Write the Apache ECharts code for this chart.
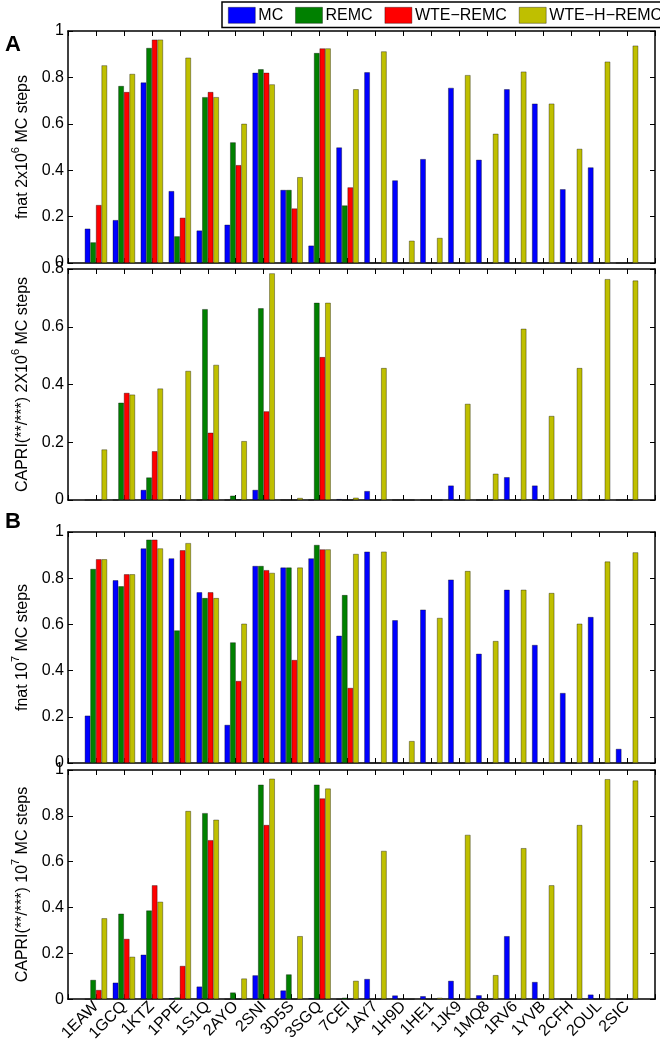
<!DOCTYPE html>
<html><head><meta charset="utf-8">
<script src="https://cdn.jsdelivr.net/npm/echarts@6/dist/echarts.min.js"></script>
<style>html,body{margin:0;padding:0;background:#fff}#c{width:660px;height:1044px}</style>
</head><body><div id="c"></div>
<script>
const categories = ['1EAW','1GCQ','1KTZ','1PPE','1S1Q','2AYO','2SNI','3D5S','3SGQ','7CEI','1AY7','1H9D','1HE1','1JK9','1MQ8','1RV6','1YVB','2CFH','2OUL','2SIC'];
const seriesNames = ['MC','REMC','WTE\u2212REMC','WTE\u2212H\u2212REMC'];
const seriesColors = ['#0000ff','#008000','#ff0000','#bfbf00'];

// Panel A, top: fnat 2x10^6 MC steps
const fnat2e6_MC   = [0.148,0.185,0.778,0.31,0.14,0.165,0.82,0.315,0.075,0.498,0.822,0.356,0.448,0.755,0.445,0.749,0.687,0.318,0.412,0];
const fnat2e6_REMC = [0.089,0.763,0.927,0.115,0.715,0.52,0.835,0.315,0.905,0.248,0,0,0,0,0,0,0,0,0,0];
const fnat2e6_WTE  = [0.25,0.737,0.963,0.195,0.737,0.422,0.82,0.235,0.925,0.326,0,0,0,0,0,0,0,0,0,0];
const fnat2e6_WTEH = [0.852,0.815,0.963,0.885,0.715,0.60,0.77,0.37,0.925,0.749,0.912,0.096,0.108,0.81,0.557,0.825,0.687,0.492,0.868,0.937];

// Panel A, bottom: CAPRI(**/***) 2X10^6 MC steps
const capri2e6_MC   = [0,0,0.035,0,0,0,0.035,0,0,0.003,0.031,0,0,0.05,0,0.079,0.05,0,0,0];
const capri2e6_REMC = [0,0.337,0.078,0,0.661,0.015,0.664,0,0.683,0,0,0,0,0,0,0,0,0,0,0];
const capri2e6_WTE  = [0,0.371,0.169,0,0.233,0.002,0.307,0,0.495,0,0,0,0,0,0,0,0,0,0,0];
const capri2e6_WTEH = [0.175,0.365,0.386,0.447,0.468,0.204,0.785,0.007,0.683,0.008,0.457,0,0,0.333,0.091,0.593,0.291,0.457,0.765,0.76];

// Panel B, top: fnat 10^7 MC steps
const fnat1e7_MC   = [0.205,0.791,0.929,0.886,0.739,0.165,0.853,0.846,0.886,0.551,0.915,0.618,0.664,0.794,0.473,0.75,0.511,0.303,0.632,0.061];
const fnat1e7_REMC = [0.84,0.765,0.967,0.574,0.714,0.522,0.853,0.846,0.944,0.727,0,0,0,0,0,0,0,0,0,0];
const fnat1e7_WTE  = [0.882,0.817,0.967,0.921,0.739,0.355,0.835,0.446,0.925,0.325,0,0,0,0,0,0,0,0,0,0];
const fnat1e7_WTEH = [0.882,0.817,0.929,0.952,0.714,0.603,0.823,0.846,0.925,0.905,0.915,0.095,0.628,0.831,0.528,0.75,0.736,0.603,0.872,0.912];

// Panel B, bottom: CAPRI(**/***) 10^7 MC steps
const capri1e7_MC   = [0,0.072,0.194,0.004,0.055,0,0.104,0.038,0.004,0,0.088,0.016,0.013,0.08,0.017,0.275,0.075,0,0.02,0];
const capri1e7_REMC = [0.084,0.373,0.387,0.007,0.812,0.029,0.936,0.108,0.936,0.006,0,0,0,0,0,0,0,0,0,0];
const capri1e7_WTE  = [0.04,0.263,0.497,0.145,0.694,0,0.76,0,0.876,0,0,0,0,0,0,0,0,0,0,0];
const capri1e7_WTEH = [0.353,0.185,0.425,0.821,0.783,0.09,0.962,0.275,0.919,0.08,0.647,0,0.006,0.717,0.105,0.659,0.497,0.76,0.96,0.954];

const yTicksA1 = {min:0, max:1, interval:0.2};
const yTicksA2 = {min:0, max:0.8, interval:0.2};
const yTicksB1 = {min:0, max:1, interval:0.2};
const yTicksB2 = {min:0, max:1, interval:0.2};

const panels = [
  {name:['fnat 2x10','6',' MC steps'], y:yTicksA1, data:[fnat2e6_MC,fnat2e6_REMC,fnat2e6_WTE,fnat2e6_WTEH], top:31, height:232},
  {name:['CAPRI(**/***) 2X10','6',' MC steps'], y:yTicksA2, data:[capri2e6_MC,capri2e6_REMC,capri2e6_WTE,capri2e6_WTEH], top:269, height:231},
  {name:['fnat 10','7',' MC steps'], y:yTicksB1, data:[fnat1e7_MC,fnat1e7_REMC,fnat1e7_WTE,fnat1e7_WTEH], top:532, height:231},
  {name:['CAPRI(**/***) 10','7',' MC steps'], y:yTicksB2, data:[capri1e7_MC,capri1e7_REMC,capri1e7_WTE,capri1e7_WTEH], top:770, height:231}
];

const FONT = 'Liberation Sans, Arial, Helvetica, sans-serif';
const lineStyle = {color:'#000', width:1.5};
const grid = [], xAxis = [], yAxis = [], series = [];

panels.forEach((p, gi) => {
  grid.push({left:68, right:5, top:p.top, height:p.height, containLabel:false});
  const isLast = gi === panels.length - 1;
  xAxis.push({
    type:'value', gridIndex:gi, min:0, max:categories.length + 1, interval:1, position:'bottom',
    axisLine:{show:true, onZero:false, lineStyle},
    axisTick:{show:true, inside:true, length:5, lineStyle:{color:'#000', width:1}},
    splitLine:{show:false},
    axisLabel:{show:isLast, rotate:45, fontSize:16, fontFamily:FONT, color:'#000', margin:5,
      formatter: v => categories[Math.round(v) - 1] || ''}
  });
  xAxis.push({
    type:'value', gridIndex:gi, min:0, max:categories.length + 1, interval:1, position:'top',
    axisLine:{show:true, onZero:false, lineStyle},
    axisTick:{show:true, inside:true, length:5, lineStyle:{color:'#000', width:1}},
    splitLine:{show:false}, axisLabel:{show:false}
  });
  yAxis.push({
    type:'value', gridIndex:gi, min:p.y.min, max:p.y.max, interval:p.y.interval, position:'left',
    axisLine:{show:true, onZero:false, lineStyle},
    axisTick:{show:true, inside:true, length:5, lineStyle:{color:'#000', width:1}},
    splitLine:{show:false},
    axisLabel:{fontSize:16, fontFamily:FONT, color:'#000', margin:4, formatter: v => String(+v.toFixed(1))},
    name:'{n|' + p.name[0] + '}{s|' + p.name[1] + '}{n|' + p.name[2] + '}',
    nameLocation:'middle', nameGap:36, nameRotate:90,
    nameTextStyle:{rich:{
      n:{fontSize:16, fontFamily:FONT, color:'#000', lineHeight:20, verticalAlign:'bottom'},
      s:{fontSize:11, fontFamily:FONT, color:'#000', lineHeight:20, verticalAlign:'top'}
    }}
  });
  yAxis.push({
    type:'value', gridIndex:gi, min:p.y.min, max:p.y.max, interval:p.y.interval, position:'right',
    axisLine:{show:true, onZero:false, lineStyle},
    axisTick:{show:true, inside:true, length:5, lineStyle:{color:'#000', width:1}},
    splitLine:{show:false}, axisLabel:{show:false}
  });
  p.data.forEach((arr, si) => {
    series.push({
      type:'bar', name:seriesNames[si],
      xAxisIndex:gi*2, yAxisIndex:gi*2,
      barGap:'0%', barCategoryGap:'20%',
      itemStyle:{color:seriesColors[si], borderColor:'rgba(0,0,0,0.6)', borderWidth:0.6},
      emphasis:{disabled:true},
      data: arr.map((v, i) => [i + 1, v])
    });
  });
});

const chart = echarts.init(document.getElementById('c'), null, {renderer:'canvas'});
chart.setOption({
  animation:false,
  backgroundColor:'#fff',
  title:[
    {text:'A', left:5, top:34, padding:0, textStyle:{fontSize:22, fontWeight:'bold', fontFamily:FONT, color:'#000'}},
    {text:'B', left:5, top:511, padding:0, textStyle:{fontSize:22, fontWeight:'bold', fontFamily:FONT, color:'#000'}}
  ],
  legend:{
    data:seriesNames, left:222, top:2, width:470, orient:'horizontal',
    icon:'rect', itemWidth:27, itemHeight:16, itemGap:12,
    padding:[5,6,4,6], borderColor:'#000', borderWidth:1.5, backgroundColor:'#fff',
    selectedMode:false,
    textStyle:{fontSize:16, fontFamily:FONT, color:'#000', padding:[0,0,0,-2]},
    itemStyle:{borderColor:'rgba(0,0,0,0.6)', borderWidth:0.6}
  },
  grid, xAxis, yAxis, series
});
</script></body></html>
